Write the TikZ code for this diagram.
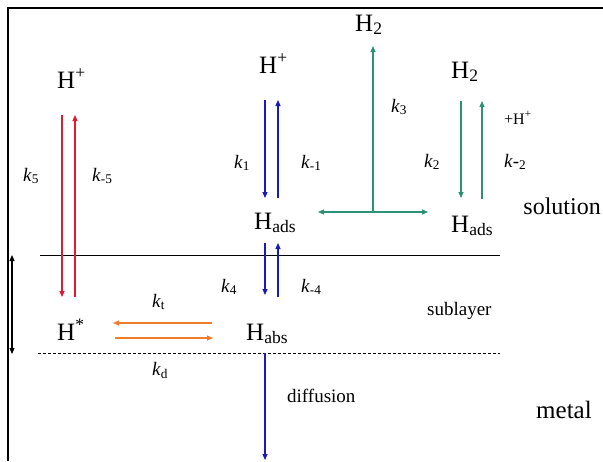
\documentclass[tikz,border=0pt]{standalone}
\usepackage{fontspec}
\setmainfont{Liberation Serif}
\usetikzlibrary{arrows.meta}
\definecolor{cred}{RGB}{225,25,55}
\definecolor{cblue}{RGB}{25,25,190}
\definecolor{cgreen}{RGB}{45,145,115}
\definecolor{corange}{RGB}{240,125,45}
\tikzset{
  big/.style={font=\fontsize{25}{25}\selectfont, inner sep=0pt, anchor=base west},
  mid/.style={font=\fontsize{19}{19}\selectfont, inner sep=0pt, anchor=base west},
  klab/.style={font=\fontsize{19}{19}\selectfont, inner sep=0pt, anchor=base west},
  small/.style={font=\fontsize{16}{16}\selectfont, inner sep=0pt, anchor=base west},
  arr/.style={line width=1.1pt, -{Triangle[length=6pt,width=5pt]}},
  darr/.style={line width=1.1pt, {Triangle[length=6pt,width=5pt]}-{Triangle[length=6pt,width=5pt]}},
}
\newcommand{\kk}[1]{\textit{k}\textsubscript{#1}}
\begin{document}
\begin{tikzpicture}[x=1pt,y=-1pt]
\useasboundingbox (0,0) rectangle (603,461);
% frame
\draw[line width=2pt] (8,461) -- (8,8) -- (603,8);
% layer lines
\coordinate (sl1) at (40,255); \coordinate (sl2) at (500,255);
\coordinate (dl1) at (38,353); \coordinate (dl2) at (500,353);
\draw[line width=0.8pt] (sl1) -- (sl2);
\draw[line width=0.8pt, dash pattern=on 3pt off 2pt] (dl1) -- (dl2);
\coordinate (lb1) at (12,255); \coordinate (lb2) at (12,354);
\draw[darr, black] (lb1) -- (lb2);

% species
\node[big] (Hp1) at (57,88) {H\textsuperscript{+}};
\node[big] (Hp2) at (259,73) {H\textsuperscript{+}};
\node[big] (H2a) at (355,31) {H\textsubscript{2}};
\node[big] (H2b) at (451,78) {H\textsubscript{2}};
\node[big] (Hads1) at (254,229) {H\textsubscript{ads}};
\node[big] (Hads2) at (451,232) {H\textsubscript{ads}};
\node[big] (Hst) at (57,340) {H\textsuperscript{*}};
\node[big] (Habs) at (246,340) {H\textsubscript{abs}};
\node[big, anchor=base east, font=\fontsize{24}{24}\selectfont] (sol) at (601,214) {solution};
\node[big] (met) at (536,418) {metal};
\node[mid] (sub) at (427,315) {sublayer};
\node[mid] (dif) at (287,402) {diffusion};
\node[small] (pH) at (504,124) {+H\textsuperscript{+}};

% rate constants
\node[klab] (k5) at (23,181) {\kk{5}};
\node[klab] (km5) at (92,181) {\kk{-5}};
\node[klab] (k1) at (234,168) {\kk{1}};
\node[klab] (km1) at (301,168) {\kk{-1}};
\node[klab] (k3) at (391,112) {\kk{3}};
\node[klab] (k2) at (424,167) {\kk{2}};
\node[klab] (km2) at (504,167) {\textit{k}-\textsubscript{2}};
\node[klab] (k4) at (221,292) {\kk{4}};
\node[klab] (km4) at (301,292) {\kk{-4}};
\node[klab] (kt) at (152,307) {\kk{t}};
\node[klab] (kd) at (152,375) {\kk{d}};

% red arrows
\coordinate (r1a) at (62,115); \coordinate (r1b) at (62,297);
\coordinate (r2a) at (75,297); \coordinate (r2b) at (75,115);
\draw[arr, cred] (r1a) -- (r1b);
\draw[arr, cred] (r2a) -- (r2b);

% blue arrows
\coordinate (b1a) at (265,100); \coordinate (b1b) at (265,198);
\coordinate (b2a) at (278,198); \coordinate (b2b) at (278,100);
\draw[arr, cblue] (b1a) -- (b1b);
\draw[arr, cblue] (b2a) -- (b2b);
\coordinate (b3a) at (265,243); \coordinate (b3b) at (265,295);
\coordinate (b4a) at (278,297); \coordinate (b4b) at (278,243);
\draw[arr, cblue] (b3a) -- (b3b);
\draw[arr, cblue] (b4a) -- (b4b);
\coordinate (b5a) at (265,353); \coordinate (b5b) at (265,460);
\draw[arr, cblue] (b5a) -- (b5b);

% green arrows
\coordinate (g0) at (373,212); \coordinate (gt) at (373,46);
\coordinate (gl) at (318,212); \coordinate (gr) at (428,212);
\draw[arr, cgreen] (g0) -- (gt);
\draw[darr, cgreen] (gl) -- (gr);
\coordinate (g1a) at (461,101); \coordinate (g1b) at (461,198);
\coordinate (g2a) at (482,199); \coordinate (g2b) at (482,101);
\draw[arr, cgreen] (g1a) -- (g1b);
\draw[arr, cgreen] (g2a) -- (g2b);

% orange arrows
\coordinate (o1a) at (212,323); \coordinate (o1b) at (113,323);
\coordinate (o2a) at (115,338); \coordinate (o2b) at (213,338);
\draw[arr, corange] (o1a) -- (o1b);
\draw[arr, corange] (o2a) -- (o2b);
\end{tikzpicture}
\end{document}
